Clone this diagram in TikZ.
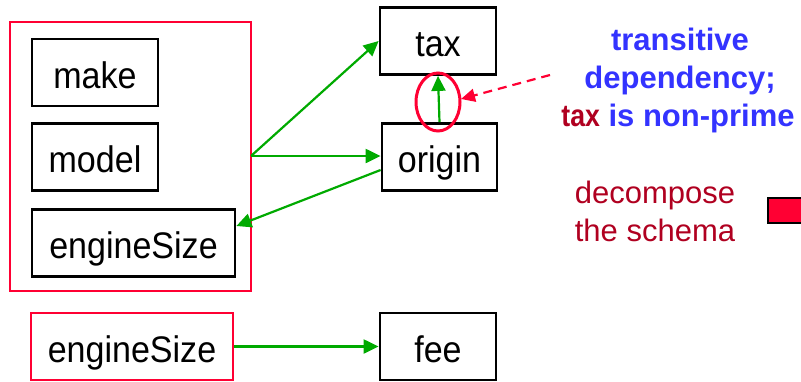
\documentclass[tikz,border=0pt]{standalone}
\usepackage{fontspec}
\setmainfont{Liberation Sans}
\newfontfamily\boxfont[FakeStretch=0.92]{Liberation Sans}
\usetikzlibrary{arrows.meta}
\definecolor{fdblue}{RGB}{51,51,255}
\definecolor{fdred}{RGB}{255,0,51}
\definecolor{fddark}{RGB}{176,0,32}
\definecolor{fdgreen}{RGB}{0,170,0}
\tikzset{
  attr/.style={draw=black, line width=2.8pt, minimum height=67pt, inner sep=0pt,
    text height=31pt, text depth=0pt, font=\boxfont\fontsize{37}{44}\selectfont},
  keybox/.style={draw=fdred, line width=2.5pt},
  fd/.style={draw=fdgreen, line width=2.2pt, -{Triangle[length=15pt,width=14pt]}},
  note/.style={align=center, font=\fontsize{31}{38}\selectfont},
}
\begin{document}
\begin{tikzpicture}[x=1pt,y=-1pt]
\clip (0,0) rectangle (801,381);
% left key box
\node[keybox, minimum width=241pt, minimum height=269pt] (big) at (130.5,156.5) {};
\node[attr, minimum width=126pt] (make) at (95,72.5) {make};
\node[attr, minimum width=126pt] (model) at (95,157) {model};
\node[attr, minimum width=203pt] (eng) at (133.5,243) {engineSize};
% right attributes
\node[attr, minimum width=116pt] (tax) at (438,41) {tax};
\node[attr, minimum width=115pt] (origin) at (439.5,157) {origin};
% bottom row
\node[attr, draw=fdred, line width=2.5pt, minimum width=202pt] (eng2) at (132,346.5) {engineSize};
\node[attr, minimum width=116pt] (fee) at (438,346.5) {fee};
% dependencies
\coordinate (src) at (251,156);
\draw[fd] (src) -- (tax.west);
\draw[fd] (src) -- (origin.west |- src);
\draw[fd] ([yshift=-13pt]origin.west) -- ([yshift=17pt]eng.east);
\draw[fd] (origin.north) -- (tax.south);
\draw[fd] (eng2.east) -- (fee.west);
% highlight of transitive dependency
\draw[fdred, line width=3pt] (438,102) ellipse [x radius=22pt, y radius=29pt];
\coordinate (ellE) at (461,99);
\coordinate (dashS) at (550,75);
\draw[fdred, line width=2.2pt, dash pattern=on 9pt off 6pt, -{Triangle[length=14pt,width=13pt]}] (dashS) -- (ellE);
% notes
\node[note, font=\fontsize{31}{38}\selectfont\bfseries, text=fdblue, anchor=base] (t1) at (680,50) {transitive};
\node[note, font=\fontsize{31}{38}\selectfont\bfseries, text=fdblue, anchor=base] (t2) at (680,88) {dependency;};
\node[note, font=\fontsize{31}{38}\selectfont\bfseries, text=fdblue, anchor=base] (t3) at (678,126) {\textcolor{fddark}{\scalebox{0.86}[1]{tax}} is non-prime};
\node[note, text=fddark, anchor=base] (d1) at (655,203) {decompose};
\node[note, text=fddark, anchor=base] (d2) at (655,241) {the schema};
% arrow stub at right edge
\draw[fill=fdred, draw=black, line width=2pt] (768,198) rectangle (806,223);
\end{tikzpicture}
\end{document}
